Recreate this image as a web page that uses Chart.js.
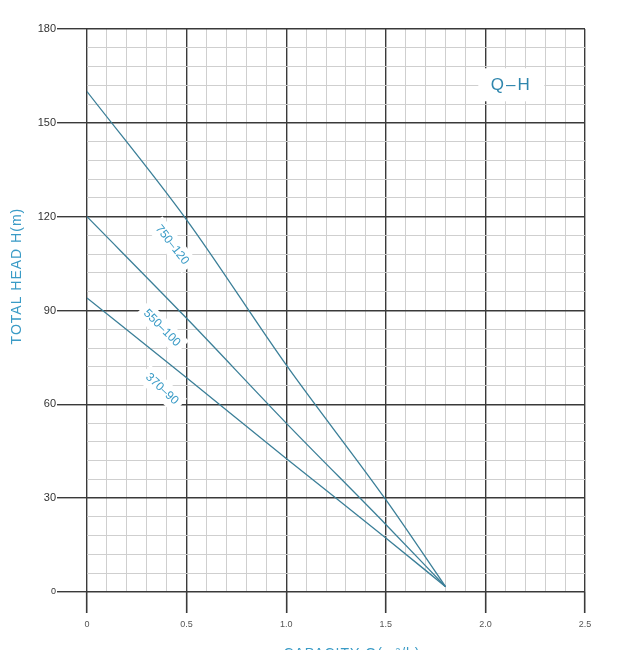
<!DOCTYPE html>
<html lang="en">
<head>
    <meta charset="UTF-8">
    <title>Q-H</title>
    <script src="https://cdn.jsdelivr.net/npm/chart.js"></script>
    <style>
        body { margin: 0; background: #fff; overflow: hidden; }
        #wrap { width: 620px; height: 665px; }
    </style>
</head>
<body>
    <div id="wrap"><canvas id="qh" width="620" height="665"></canvas></div>

    <script>
        // capacity Q (m3/h) and head H (m)
        const flowQ = [0, 0.5, 1.0, 1.5, 1.8];
        const head750 = [160, 119, 72.6, 29.5, 1.7];
        const head550 = [120, 87.5, 54, 21.6, 1.7];
        const head370 = [94, 68.5, 42.7, 17.3, 1.7];
        const seriesNames = ['750–120', '550–100', '370–90'];
        const xTickLabels = ['0', '0.5', '1.0', '1.5', '2.0', '2.5'];
        const yTickLabels = ['0', '30', '60', '90', '120', '150', '180'];

        const lineColor = '#3b7f98';
        const textBlue = '#3a9bc6';
        const majorColor = '#3a3a3a';
        const minorColor = '#cfcfcf';

        const pts = (ys) => flowQ.map((q, i) => ({ x: q, y: ys[i] }));
        const isMajorX = v => Math.abs(v * 2 - Math.round(v * 2)) < 1e-6;
        const isMajorY = v => Math.abs(v / 30 - Math.round(v / 30)) < 1e-6;

        // label spots along the curves (data coords + angle)
        const curveLabels = [
            { text: seriesNames[0], x: 0.427, y: 111, angle: 52 },
            { text: seriesNames[1], x: 0.376, y: 84.4, angle: 45 },
            { text: seriesNames[2], x: 0.376, y: 64.9, angle: 43 }
        ];

        const labelsPlugin = {
            id: 'labels',
            beforeDatasetsDraw(chart) {
                const { ctx, scales } = chart;
                ctx.save();
                ctx.font = '12px "Liberation Sans", Arial, sans-serif';
                ctx.textAlign = 'center';
                ctx.textBaseline = 'middle';
                curveLabels.forEach(l => {
                    const px = scales.x.getPixelForValue(l.x);
                    const py = scales.y.getPixelForValue(l.y);
                    ctx.save();
                    ctx.translate(px, py);
                    ctx.rotate(l.angle * Math.PI / 180);
                    const w = ctx.measureText(l.text).width;
                    ctx.fillStyle = '#fff';
                    ctx.fillRect(-w / 2 - 5, -10, w + 10, 20);
                    ctx.fillStyle = textBlue;
                    ctx.fillText(l.text, 0, 0);
                    ctx.restore();
                });
                // Q-H tag
                const qx = scales.x.getPixelForValue(2.13);
                const qy = scales.y.getPixelForValue(162);
                ctx.fillStyle = '#fff';
                ctx.fillRect(qx - 33, qy - 17, 66, 33);
                ctx.font = '17px "Liberation Sans", Arial, sans-serif';
                ctx.letterSpacing = '2px';
                ctx.fillStyle = '#2f86ad';
                ctx.fillText('Q–H', qx, qy);
                ctx.restore();
            },
            afterDraw(chart) {
                const { ctx, scales } = chart;
                ctx.save();
                ctx.font = '14px "Liberation Sans", Arial, sans-serif';
                ctx.letterSpacing = '1px';
                ctx.fillStyle = textBlue;
                ctx.textAlign = 'center';
                ctx.textBaseline = 'middle';
                ctx.save();
                ctx.translate(17, scales.y.getPixelForValue(101));
                ctx.rotate(-Math.PI / 2);
                ctx.fillText('TOTAL HEAD H(m)', 0, 0);
                ctx.restore();
                ctx.fillText('CAPACITY Q(m³/h)', scales.x.getPixelForValue(1.33), 654);
                ctx.restore();
            }
        };

        const ds = (label, ys) => ({
            label: label,
            data: pts(ys),
            borderColor: lineColor,
            borderWidth: 1.3,
            pointRadius: 0,
            cubicInterpolationMode: 'monotone',
            fill: false
        });

        new Chart(document.getElementById('qh').getContext('2d'), {
            type: 'line',
            data: {
                datasets: [
                    ds(seriesNames[0], head750),
                    ds(seriesNames[1], head550),
                    ds(seriesNames[2], head370)
                ]
            },
            options: {
                responsive: false,
                animation: false,
                layout: { padding: { top: 29, right: 35, left: 0, bottom: 0 } },
                plugins: { legend: { display: false }, tooltip: { enabled: false } },
                scales: {
                    x: {
                        type: 'linear',
                        min: 0,
                        max: 2.5,
                        afterFit: s => { s.height = 73; },
                        border: { display: false },
                        grid: {
                            tickLength: 21,
                            color: c => isMajorX(c.tick.value) ? majorColor : minorColor,
                            tickColor: c => isMajorX(c.tick.value) ? majorColor : 'rgba(0,0,0,0)',
                            lineWidth: c => isMajorX(c.tick.value) ? 1.4 : 1,
                            tickWidth: 1.6
                        },
                        ticks: {
                            stepSize: 0.1,
                            autoSkip: false,
                            maxRotation: 0,
                            padding: 6,
                            color: '#555',
                            font: { size: 9, family: '"Liberation Sans", Arial, sans-serif' },
                            callback: v => isMajorX(v) ? xTickLabels[Math.round(v * 2)] : ''
                        }
                    },
                    y: {
                        min: 0,
                        max: 180,
                        afterFit: s => { s.width = 87; },
                        border: { display: false },
                        grid: {
                            tickLength: 30,
                            color: c => isMajorY(c.tick.value) ? majorColor : minorColor,
                            tickColor: c => isMajorY(c.tick.value) ? majorColor : 'rgba(0,0,0,0)',
                            lineWidth: c => isMajorY(c.tick.value) ? 1.4 : 1,
                            tickWidth: 1.4
                        },
                        ticks: {
                            stepSize: 6,
                            autoSkip: false,
                            padding: 1,
                            color: '#333',
                            font: c => ({ size: c.tick && c.tick.value === 0 ? 9 : 11, family: '"Liberation Sans", Arial, sans-serif' }),
                            callback: v => isMajorY(v) ? yTickLabels[Math.round(v / 30)] : ''
                        }
                    }
                }
            },
            plugins: [labelsPlugin]
        });
    </script>
</body>
</html>
